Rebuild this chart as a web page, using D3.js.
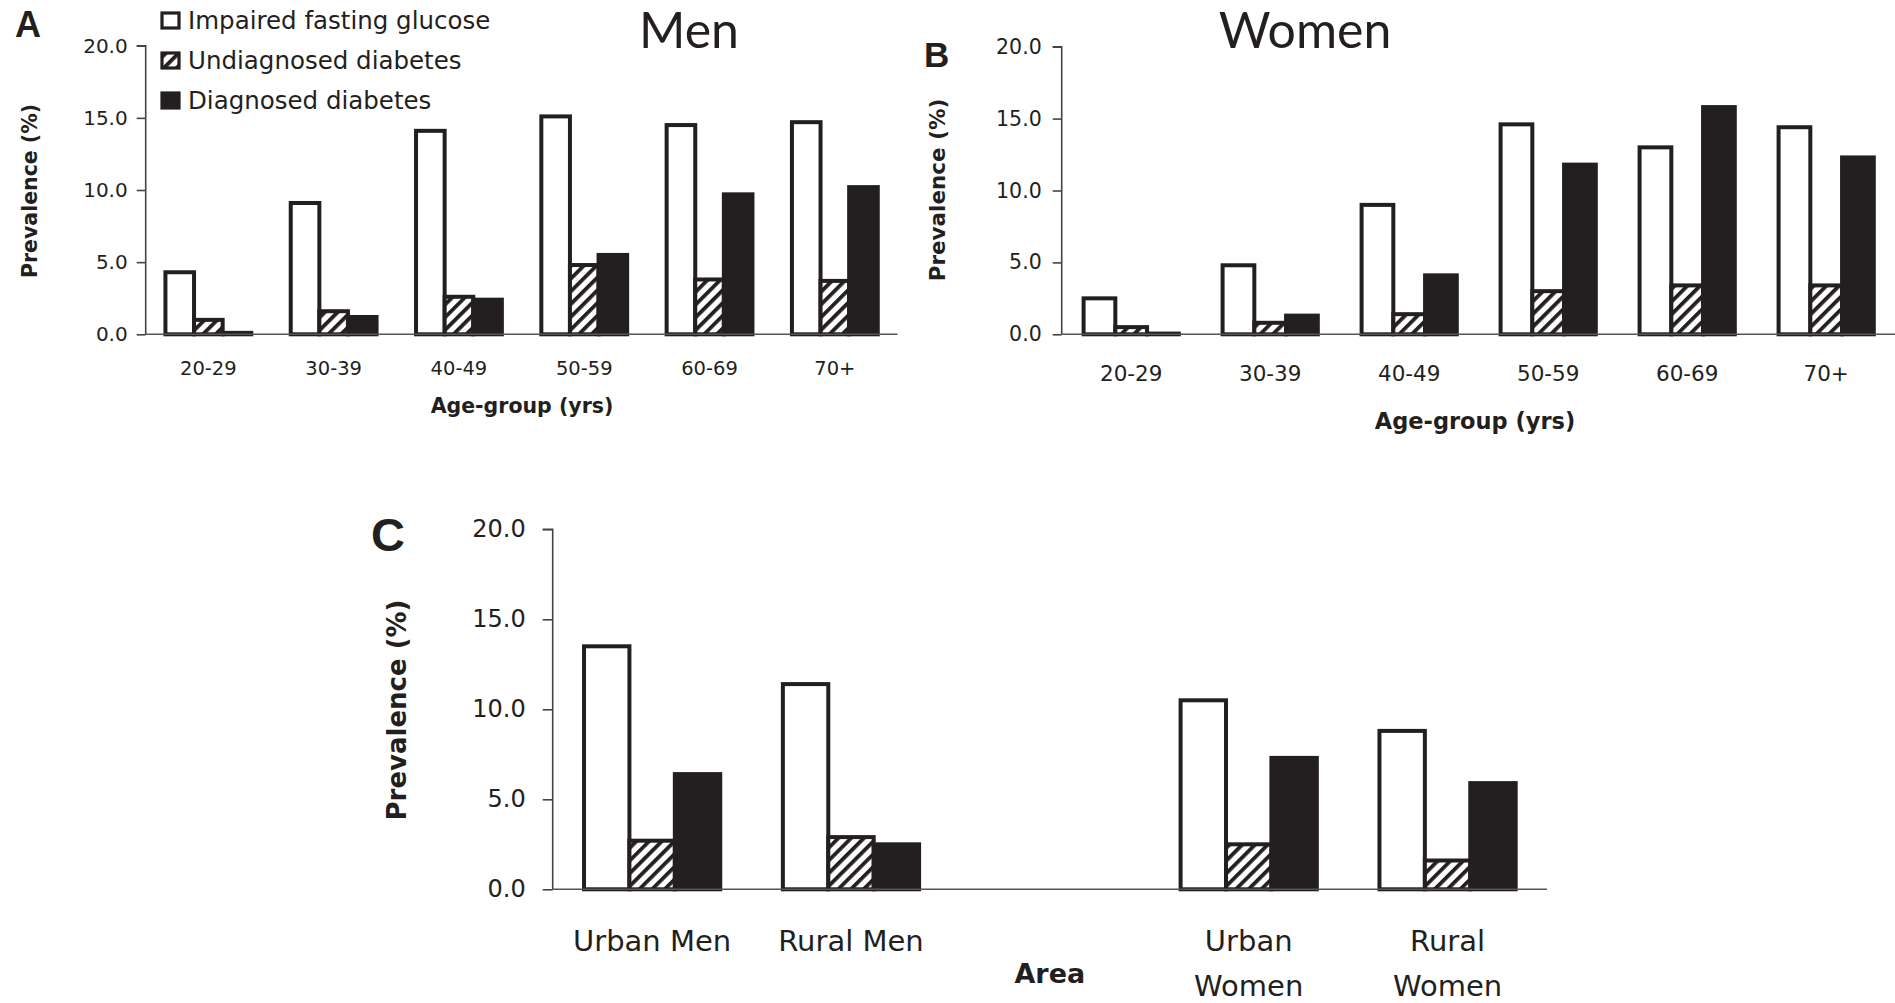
<!DOCTYPE html>
<html>
<head>
<meta charset="utf-8">
<script src="https://cdn.jsdelivr.net/npm/d3@7"></script>
<style>
  html, body { margin: 0; padding: 0; background: #fff; }
  svg { display: block; }
  text { font-family: "DejaVu Sans", Verdana, sans-serif; fill: #231f20; }
</style>
</head>
<body>
<svg id="chart" width="1895" height="1003"></svg>
<script>
// ---------- DATA ----------
const ageGroups = ["20-29", "30-39", "40-49", "50-59", "60-69", "70+"];
const seriesNames = ["Impaired fasting glucose", "Undiagnosed diabetes", "Diagnosed diabetes"];

const menIFG     = [4.3, 9.1, 14.1, 15.1, 14.5, 14.7];
const menUndiag  = [1.0, 1.6, 2.6, 4.8, 3.8, 3.7];
const menDiag    = [0.1, 1.2, 2.4, 5.5, 9.7, 10.2];

const womenIFG    = [2.5, 4.8, 9.0, 14.6, 13.0, 14.4];
const womenUndiag = [0.5, 0.8, 1.4, 3.0, 3.4, 3.4];
const womenDiag   = [0.05, 1.3, 4.1, 11.8, 15.8, 12.3];

const areaGroups  = ["Urban Men", "Rural Men", "Area", "Urban Women", "Rural Women"];
const areaTickLines = [["Urban Men"], ["Rural Men"], [], ["Urban", "Women"], ["Rural", "Women"]];
const areaIFG    = [13.5, 11.4, null, 10.5, 8.8];
const areaUndiag = [2.7, 2.9, null, 2.5, 1.6];
const areaDiag   = [6.4, 2.5, null, 7.3, 5.9];

const yTicks = [0, 5, 10, 15, 20];

// ---------- DRAW ----------
const svg = d3.select("#chart");
const INK = "#231f20";

const defs = svg.append("defs");
defs.append("pattern")
  .attr("id", "hatch")
  .attr("patternUnits", "userSpaceOnUse")
  .attr("width", 9).attr("height", 9)
  .attr("patternTransform", "rotate(45)")
  .call(p => {
    p.append("rect").attr("width", 9).attr("height", 9).attr("fill", "#fff");
    p.append("rect").attr("width", 3.8).attr("height", 9).attr("fill", INK);
  });

const fills = ["#fff", "url(#hatch)", INK];

function panel(cfg) {
  const g = svg.append("g");
  const y = d3.scaleLinear().domain([0, 20]).range([cfg.y0, cfg.y1]);
  const x0 = d3.scaleBand().domain(cfg.cats).range([cfg.x0, cfg.x1])
    .paddingInner(0.315).paddingOuter(0.1575);
  const x1 = d3.scaleBand().domain(seriesNames).range([0, x0.bandwidth()]);

  // y axis
  const yAxis = d3.axisLeft(y).tickValues(yTicks).tickFormat(d3.format(".1f"))
    .tickSize(cfg.tick).tickPadding(cfg.tickPad);
  const ya = g.append("g").attr("transform", `translate(${cfg.x0},0)`).call(yAxis);
  ya.select(".domain").attr("stroke", "#444").attr("stroke-width", 1.6)
    .attr("d", `M${-cfg.tick},${cfg.y1}H0V${cfg.y0}`);
  ya.selectAll(".tick line").attr("stroke", "#444").attr("stroke-width", 1.6);
  ya.selectAll(".tick text").style("font-size", cfg.tickFont + "px")
    .style("font-family", '"DejaVu Sans", Verdana, sans-serif').attr("fill", "#2b2b2b");

  // bars
  const rows = cfg.cats.map((c, i) => ({ cat: c, vals: cfg.series.map(s => s[i]) }));
  const grp = g.append("g").selectAll("g").data(rows).join("g")
    .attr("transform", d => `translate(${x0(d.cat)},0)`);
  grp.selectAll("rect")
    .data(d => d.vals.map((v, k) => ({ v, k })).filter(e => e.v != null))
    .join("rect")
    .attr("x", e => x1(seriesNames[e.k]))
    .attr("width", x1.bandwidth())
    .attr("y", e => y(e.v))
    .attr("height", e => y(0) - y(e.v))
    .attr("fill", e => fills[e.k])
    .attr("stroke", INK)
    .attr("stroke-width", cfg.stroke);

  // x axis baseline
  const xAxis = d3.axisBottom(x0).tickSize(0).tickFormat("");
  const xa = g.append("g").attr("transform", `translate(0,${cfg.y0})`).call(xAxis);
  xa.select(".domain").attr("stroke", "#555").attr("stroke-width", 1.6)
    .attr("d", `M${cfg.x0},0H${cfg.xEnd}`);

  // category labels
  cfg.cats.forEach((c, i) => {
    const lines = cfg.tickLines ? cfg.tickLines[i] : [c];
    lines.forEach((ln, j) => {
      g.append("text")
        .attr("x", x0(c) + x0.bandwidth() / 2)
        .attr("y", cfg.catY + j * cfg.catLine)
        .attr("text-anchor", "middle")
        .attr("dominant-baseline", "central")
        .style("font-size", cfg.catFont + "px")
        .attr("fill", "#2b2b2b")
        .text(ln);
    });
  });

  // x title
  const xtX = cfg.xTitleAtBand ? x0(cfg.xTitleAtBand) + x0.bandwidth() / 2 : cfg.xTitleX;
  g.append("text")
    .attr("x", xtX).attr("y", cfg.xTitleY)
    .attr("text-anchor", "middle").attr("dominant-baseline", "central")
    .style("font-size", cfg.xTitleFont + "px").style("font-weight", "bold")
    .text(cfg.xTitle);

  // y title
  g.append("text")
    .attr("transform", `translate(${cfg.yTitleX},${cfg.yTitleY}) rotate(-90)`)
    .attr("text-anchor", "middle").attr("dominant-baseline", "central")
    .style("font-size", cfg.yTitleFont + "px").style("font-weight", "bold")
    .text("Prevalence (%)");

  // panel letter
  g.append("text")
    .attr("x", cfg.letterX).attr("y", cfg.letterY)
    .style("font-family", '"Liberation Sans", Arial, sans-serif')
    .style("font-size", cfg.letterFont + "px").style("font-weight", "bold")
    .attr("fill", "#1a1a1a")
    .text(cfg.letter);

  if (cfg.title) {
    g.append("text")
      .attr("x", cfg.titleX).attr("y", cfg.titleY)
      .attr("text-anchor", "middle")
      .style("font-family", 'Lato, "Open Sans", sans-serif')
      .style("font-size", cfg.titleFont + "px")
      .attr("fill", "#000")
      .text(cfg.title);
  }
}

panel({
  cats: ageGroups, series: [menIFG, menUndiag, menDiag],
  x0: 145.7, x1: 897.5, xEnd: 897.5, y0: 334.3, y1: 45.7,
  tick: 9, tickPad: 9, tickFont: 20, stroke: 4,
  catY: 368, catLine: 0, catFont: 19.5,
  xTitle: "Age-group (yrs)", xTitleX: 522, xTitleY: 406, xTitleFont: 20.5,
  yTitleX: 30, yTitleY: 191, yTitleFont: 20.5,
  letter: "A", letterX: 15, letterY: 37, letterFont: 36,
  title: "Men", titleX: 689, titleY: 47.5, titleFont: 50
});

panel({
  cats: ageGroups, series: [womenIFG, womenUndiag, womenDiag],
  x0: 1061.7, x1: 1895.7, xEnd: 1895, y0: 334.3, y1: 46.7,
  tick: 9, tickPad: 11, tickFont: 20.5, stroke: 4,
  catY: 373, catLine: 0, catFont: 21.5,
  xTitle: "Age-group (yrs)", xTitleX: 1475, xTitleY: 421, xTitleFont: 22.5,
  yTitleX: 937, yTitleY: 190, yTitleFont: 21.5,
  letter: "B", letterX: 924, letterY: 67, letterFont: 35,
  title: "Women", titleX: 1305, titleY: 47.5, titleFont: 50
});

panel({
  cats: areaGroups, series: [areaIFG, areaUndiag, areaDiag], tickLines: areaTickLines,
  x0: 552.7, x1: 1547, xEnd: 1547, y0: 889.3, y1: 529.3,
  tick: 10, tickPad: 17, tickFont: 24, stroke: 4,
  catY: 941, catLine: 45, catFont: 29,
  xTitle: "Area", xTitleAtBand: "Area", xTitleY: 973, xTitleFont: 27,
  yTitleX: 397, yTitleY: 710, yTitleFont: 26,
  letter: "C", letterX: 371, letterY: 551, letterFont: 47
});

// legend (panel A)
const legend = svg.append("g");
const legY = [29, 69, 109];
seriesNames.forEach((name, k) => {
  legend.append("rect")
    .attr("x", 162).attr("y", legY[k] - 16)
    .attr("width", 17).attr("height", 15)
    .attr("fill", fills[k]).attr("stroke", INK).attr("stroke-width", 3.2);
  legend.append("text")
    .attr("x", 188).attr("y", legY[k])
    .style("font-size", "24.5px").attr("fill", "#2b2b2b")
    .text(name);
});
</script>
</body>
</html>
